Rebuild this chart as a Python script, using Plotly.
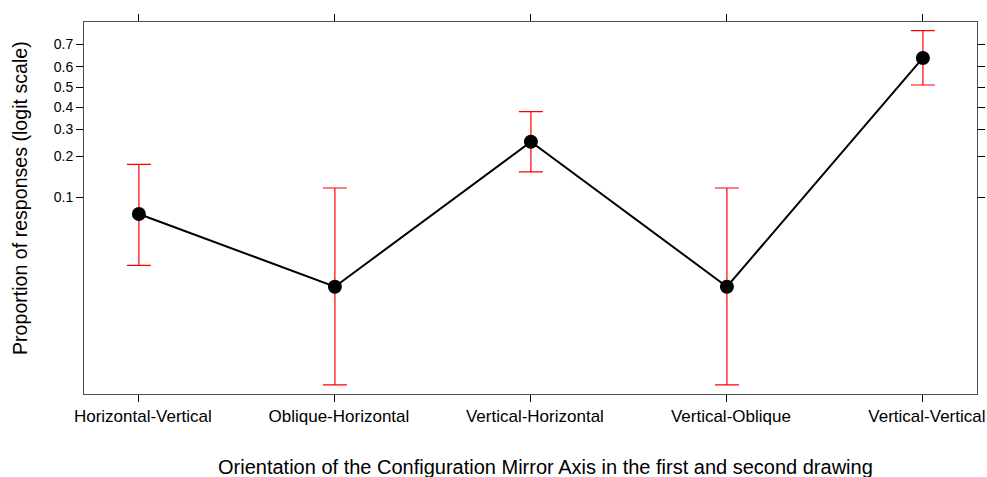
import numpy as np
import plotly.graph_objects as go

categories = ["Horizontal-Vertical", "Oblique-Horizontal", "Vertical-Horizontal",
              "Vertical-Oblique", "Vertical-Vertical"]
prop = [0.0734, 0.0182, 0.251, 0.0182, 0.641]
upper = [0.176, 0.1174, 0.379, 0.1174, 0.755]
lower = [0.0276, 0.0026, 0.155, 0.0026, 0.510]
tick_probs = [0.1, 0.2, 0.3, 0.4, 0.5, 0.6, 0.7]
tick_labels = ["0.1", "0.2", "0.3", "0.4", "0.5", "0.6", "0.7"]


def logit(p):
    p = np.asarray(p, dtype=float)
    return np.log(p / (1 - p))


yc = logit(prop)
yu = logit(upper)
yl = logit(lower)
xpos = list(range(len(categories)))

FONT = "Liberation Sans, Arial, Helvetica, sans-serif"

fig = go.Figure()
fig.add_trace(go.Scatter(
    x=xpos, y=yc, mode="lines+markers",
    line=dict(color="black", width=2),
    marker=dict(color="black", size=14),
    error_y=dict(type="data", symmetric=False, array=yu - yc, arrayminus=yc - yl,
                 color="red", thickness=1.2, width=12),
    showlegend=False, hoverinfo="skip",
))

fig.update_layout(
    width=987, height=477,
    margin=dict(l=84, r=10, t=22, b=83),
    paper_bgcolor="white", plot_bgcolor="white",
    font=dict(family=FONT, size=15, color="black"),
    xaxis=dict(
        range=[-0.28, 4.276], tickmode="array", tickvals=xpos, ticktext=categories,
        showline=True, linecolor="#4d4d4d", linewidth=1, mirror="ticks",
        ticks="outside", ticklen=7, tickcolor="black", tickwidth=1,
        showgrid=False, zeroline=False, tickfont=dict(size=17), automargin=False,
        ticklabelshift=4, ticklabeloverflow="allow",
    ),
    yaxis=dict(
        range=[-6.131, 1.298], tickmode="array", tickvals=logit(tick_probs), ticktext=tick_labels,
        showline=True, linecolor="#4d4d4d", linewidth=1, mirror="ticks",
        ticks="outside", ticklen=7, tickcolor="black", tickwidth=1,
        showgrid=False, zeroline=False, tickfont=dict(size=14), automargin=False,
    ),
    annotations=[
        dict(text="Orientation of the Configuration Mirror Axis in the first and second drawing",
             xref="paper", yref="paper", x=0.5, y=0, xshift=15, yshift=-73,
             xanchor="center", yanchor="middle",
             showarrow=False, font=dict(size=20)),
        dict(text="Proportion of responses (logit scale)", textangle=-90,
             xref="paper", yref="paper", x=0, y=0.5, xshift=-64, yshift=10,
             xanchor="center", yanchor="middle",
             showarrow=False, font=dict(size=19.6)),
    ],
)

fig.write_html("out.html")
